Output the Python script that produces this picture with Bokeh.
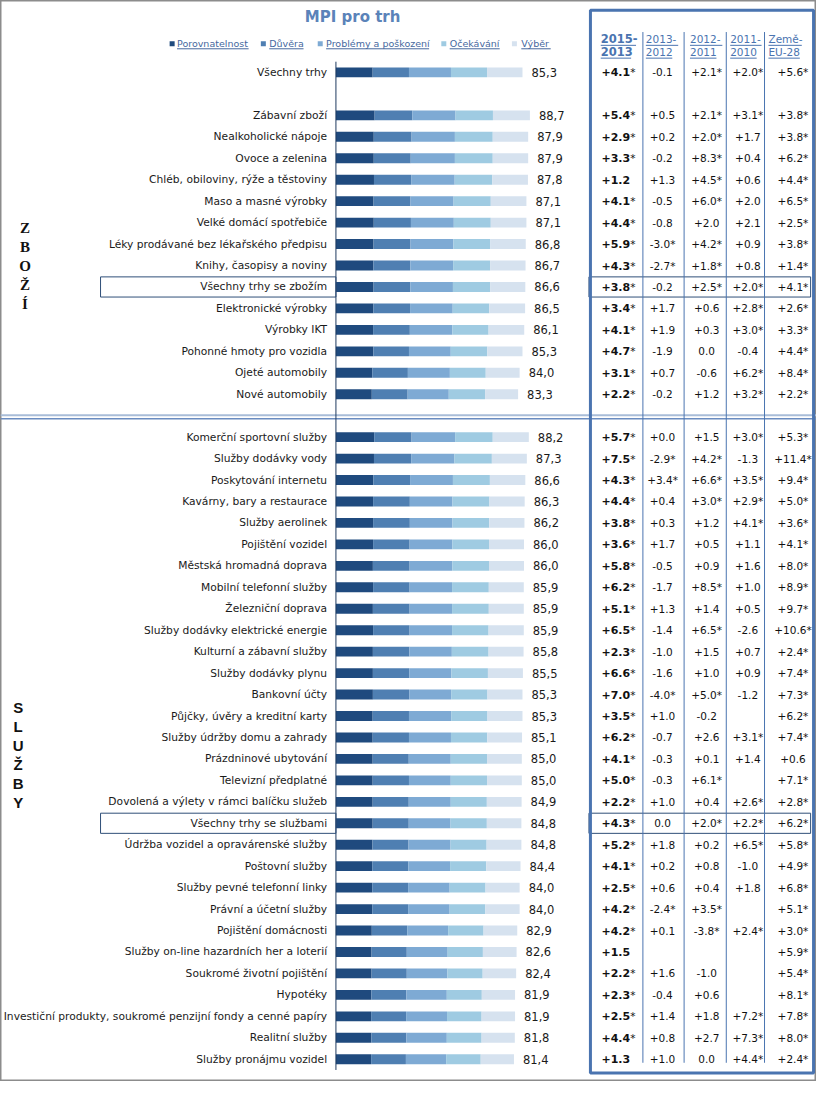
from bokeh.plotting import figure
from bokeh.models import Range1d, ColumnDataSource
from bokeh.embed import file_html
from bokeh.resources import INLINE
from bokeh.core.properties import value

# ---------------- data ----------------
title_text = "MPI pro trh"
components = ["Porovnatelnost", "Důvěra", "Problémy a poškození", "Očekávání", "Výběr"]
col_headers = [("2015-", "2013"), ("2013-", "2012"), ("2012-", "2011"), ("2011-", "2010"), ("Země-", "EU-28")]
group_names = ["ZBOŽÍ", "SLUŽBY"]
summary_rows = ["Všechny trhy se zbožím", "Všechny trhy se službami"]

labels = [
    "Všechny trhy",
    "Zábavní zboží", "Nealkoholické nápoje", "Ovoce a zelenina", "Chléb, obiloviny, rýže a těstoviny",
    "Maso a masné výrobky", "Velké domácí spotřebiče", "Léky prodávané bez lékařského předpisu",
    "Knihy, časopisy a noviny", "Všechny trhy se zbožím", "Elektronické výrobky", "Výrobky IKT",
    "Pohonné hmoty pro vozidla", "Ojeté automobily", "Nové automobily",
    "Komerční sportovní služby", "Služby dodávky vody", "Poskytování internetu", "Kavárny, bary a restaurace",
    "Služby aerolinek", "Pojištění vozidel", "Městská hromadná doprava", "Mobilní telefonní služby",
    "Železniční doprava", "Služby dodávky elektrické energie", "Kulturní a zábavní služby",
    "Služby dodávky plynu", "Bankovní účty", "Půjčky, úvěry a kreditní karty", "Služby údržby domu a zahrady",
    "Prázdninové ubytování", "Televizní předplatné", "Dovolená a výlety v rámci balíčku služeb",
    "Všechny trhy se službami", "Údržba vozidel a opravárenské služby", "Poštovní služby",
    "Služby pevné telefonní linky", "Právní a účetní služby", "Pojištění domácnosti",
    "Služby on-line hazardních her a loterií", "Soukromé životní pojištění", "Hypotéky",
    "Investiční produkty, soukromé penzijní fondy a cenné papíry", "Realitní služby", "Služby pronájmu vozidel",
]
sections = ["all"] + ["goods"] * 14 + ["services"] * 30

mpi = [85.3, 88.7, 87.9, 87.9, 87.8, 87.1, 87.1, 86.8, 86.7, 86.6, 86.5, 86.1, 85.3, 84.0, 83.3,
       88.2, 87.3, 86.6, 86.3, 86.2, 86.0, 86.0, 85.9, 85.9, 85.9, 85.8, 85.5, 85.3, 85.3, 85.1,
       85.0, 85.0, 84.9, 84.8, 84.8, 84.4, 84.0, 84.0, 82.9, 82.6, 82.4, 81.9, 81.9, 81.8, 81.4]

porovnatelnost = [16.8, 17.7, 17.3, 17.3, 17.4, 17.2, 17.3, 17.2, 17.1, 17.2, 17.1, 17.0, 17.1, 16.6, 16.4,
                  17.5, 17.4, 17.1, 17.0, 17.0, 17.0, 16.9, 17.0, 16.9, 17.0, 16.9, 16.9, 16.9, 16.8, 16.8,
                  16.8, 16.8, 16.8, 16.8, 16.7, 16.6, 16.6, 16.6, 16.4, 16.3, 16.3, 16.2, 16.1, 16.2, 16.1]
duvera = [16.6, 17.2, 17.3, 16.9, 17.0, 16.9, 17.0, 16.9, 16.9, 16.8, 16.8, 16.8, 16.3, 16.3, 16.4,
          17.1, 17.0, 16.8, 16.8, 16.8, 16.7, 16.8, 16.7, 16.8, 16.7, 16.7, 16.6, 16.6, 16.6, 16.6,
          16.5, 16.6, 16.5, 16.5, 16.5, 16.5, 16.4, 16.4, 16.2, 16.1, 16.1, 16.0, 16.0, 16.0, 15.9]
problemy = [19.2, 19.8, 19.8, 20.2, 19.9, 19.7, 19.6, 19.6, 19.6, 19.5, 19.5, 19.4, 19.1, 19.2, 18.8,
            19.9, 19.8, 19.6, 19.5, 19.5, 19.5, 19.5, 19.4, 19.4, 19.4, 19.4, 19.3, 19.2, 19.3, 19.2,
            19.2, 19.1, 19.2, 19.1, 19.2, 19.1, 19.0, 19.0, 18.7, 18.7, 18.6, 18.5, 18.7, 18.5, 18.4]
ocekavani = [16.5, 17.1, 17.3, 17.3, 17.2, 17.0, 16.9, 16.9, 16.9, 17.0, 16.7, 16.6, 16.7, 16.4, 16.6,
             17.2, 17.1, 16.9, 16.9, 16.8, 16.8, 16.8, 16.8, 16.8, 16.7, 16.8, 16.7, 16.6, 16.6, 16.6,
             16.6, 16.6, 16.5, 16.6, 16.5, 16.5, 16.4, 16.3, 16.2, 16.1, 16.1, 16.0, 15.8, 15.9, 15.8]
vyber = [16.2, 16.9, 16.2, 16.2, 16.3, 16.3, 16.3, 16.2, 16.2, 16.1, 16.4, 16.3, 16.1, 15.5, 15.1,
         16.5, 16.0, 16.2, 16.1, 16.1, 16.0, 16.0, 16.0, 16.0, 16.1, 16.0, 16.0, 16.0, 16.0, 15.9,
         15.9, 15.9, 15.9, 15.8, 15.9, 15.7, 15.6, 15.7, 15.4, 15.4, 15.3, 15.2, 15.3, 15.2, 15.2]

chg_2015_2013 = ["+4.1*", "+5.4*", "+2.9*", "+3.3*", "+1.2", "+4.1*", "+4.4*", "+5.9*", "+4.3*", "+3.8*",
                 "+3.4*", "+4.1*", "+4.7*", "+3.1*", "+2.2*", "+5.7*", "+7.5*", "+4.3*", "+4.4*", "+3.8*",
                 "+3.6*", "+5.8*", "+6.2*", "+5.1*", "+6.5*", "+2.3*", "+6.6*", "+7.0*", "+3.5*", "+6.2*",
                 "+4.1*", "+5.0*", "+2.2*", "+4.3*", "+5.2*", "+4.1*", "+2.5*", "+4.2*", "+4.2*", "+1.5",
                 "+2.2*", "+2.3*", "+2.5*", "+4.4*", "+1.3"]
chg_2013_2012 = ["-0.1", "+0.5", "+0.2", "-0.2", "+1.3", "-0.5", "-0.8", "-3.0*", "-2.7*", "-0.2",
                 "+1.7", "+1.9", "-1.9", "+0.7", "-0.2", "+0.0", "-2.9*", "+3.4*", "+0.4", "+0.3",
                 "+1.7", "-0.5", "-1.7", "+1.3", "-1.4", "-1.0", "-1.6", "-4.0*", "+1.0", "-0.7",
                 "-0.3", "-0.3", "+1.0", "0.0", "+1.8", "+0.2", "+0.6", "-2.4*", "+0.1", "",
                 "+1.6", "-0.4", "+1.4", "+0.8", "+1.0"]
chg_2012_2011 = ["+2.1*", "+2.1*", "+2.0*", "+8.3*", "+4.5*", "+6.0*", "+2.0", "+4.2*", "+1.8*", "+2.5*",
                 "+0.6", "+0.3", "0.0", "-0.6", "+1.2", "+1.5", "+4.2*", "+6.6*", "+3.0*", "+1.2",
                 "+0.5", "+0.9", "+8.5*", "+1.4", "+6.5*", "+1.5", "+1.0", "+5.0*", "-0.2", "+2.6",
                 "+0.1", "+6.1*", "+0.4", "+2.0*", "+0.2", "+0.8", "+0.4", "+3.5*", "-3.8*", "",
                 "-1.0", "+0.6", "+1.8", "+2.7", "0.0"]
chg_2011_2010 = ["+2.0*", "+3.1*", "+1.7", "+0.4", "+0.6", "+2.0", "+2.1", "+0.9", "+0.8", "+2.0*",
                 "+2.8*", "+3.0*", "-0.4", "+6.2*", "+3.2*", "+3.0*", "-1.3", "+3.5*", "+2.9*", "+4.1*",
                 "+1.1", "+1.6", "+1.0", "+0.5", "-2.6", "+0.7", "+0.9", "-1.2", "", "+3.1*",
                 "+1.4", "", "+2.6*", "+2.2*", "+6.5*", "-1.0", "+1.8", "", "+2.4*", "",
                 "", "", "+7.2*", "+7.3*", "+4.4*"]
chg_eu28 = ["+5.6*", "+3.8*", "+3.8*", "+6.2*", "+4.4*", "+6.5*", "+2.5*", "+3.8*", "+1.4*", "+4.1*",
            "+2.6*", "+3.3*", "+4.4*", "+8.4*", "+2.2*", "+5.3*", "+11.4*", "+9.4*", "+5.0*", "+3.6*",
            "+4.1*", "+8.0*", "+8.9*", "+9.7*", "+10.6*", "+2.4*", "+7.4*", "+7.3*", "+6.2*", "+7.4*",
            "+0.6", "+7.1*", "+2.8*", "+6.2*", "+5.8*", "+4.9*", "+6.8*", "+5.1*", "+3.0*", "+5.9*",
            "+5.4*", "+8.1*", "+7.8*", "+8.0*", "+2.4*"]

# ---------------- styling / layout ----------------
seg_colors = ["#1f4a7e", "#4f7fb2", "#7eaad4", "#9fcbe2", "#d6e2ef"]
blue = "#4a74b0"
FONT = value("DejaVu Sans")

REF_W, REF_H = 832, 1097
ROW0_Y, ROW_STEP = 73.0, 21.77       # reference pixel position of the first row and row pitch
BAR_X0, PX_PER_UNIT = 342.0, 2.23    # reference pixel of value 0 and scale

# slot positions (one empty slot between sections)
slots = []
s, prev = 0, None
for sec in sections:
    if prev is not None:
        s += 1 if sec == prev else 2
    slots.append(s)
    prev = sec

p = figure(width=816, height=1081, x_range=Range1d(0, REF_W), y_range=Range1d(REF_H, 0),
           output_backend="svg", toolbar_location=None, min_border=0,
           x_axis_location=None, y_axis_location=None)
p.grid.visible = False
p.outline_line_color = "#8c8c8c"
p.outline_line_width = 2
p.background_fill_color = "white"
p.border_fill_color = "white"
p.extra_x_ranges = {"val": Range1d(-BAR_X0 / PX_PER_UNIT, (REF_W - BAR_X0) / PX_PER_UNIT)}
p.extra_y_ranges = {"row": Range1d((REF_H - ROW0_Y) / ROW_STEP, -ROW0_Y / ROW_STEP)}

# split first column into bold number + regular asterisk
c0_num = [t.rstrip("*") for t in chg_2015_2013]
c0_star = ["*" if t.endswith("*") else "" for t in chg_2015_2013]

src = ColumnDataSource(dict(
    slot=slots, label=labels, mpi=mpi,
    mpi_txt=[f"{v:.1f}".replace(".", ",") for v in mpi],
    c0=porovnatelnost, c1=duvera, c2=problemy, c3=ocekavani, c4=vyber,
    t0=chg_2015_2013, t1=chg_2013_2012, t2=chg_2012_2011, t3=chg_2011_2010, t4=chg_eu28,
    n0=c0_num, s0=c0_star,
))

# separator between goods and services
p.segment(x0=[0], y0=[421], x1=[REF_W], y1=[421], line_color="#a9bdd8", line_width=2)
p.segment(x0=[0], y0=[424.5], x1=[REF_W], y1=[424.5], line_color="#6a8cc0", line_width=1.5)

# stacked bars
p.hbar_stack(["c0", "c1", "c2", "c3", "c4"], y="slot", height=0.46, color=seg_colors,
             line_color=None, source=src, x_range_name="val", y_range_name="row")

# axis line
p.segment(x0=[0], y0=[-0.5], x1=[0], y1=[slots[-1] + 0.5], line_color="#1f3a5f", line_width=1,
          x_range_name="val", y_range_name="row")

# value labels
p.text(x="mpi", y="slot", text="mpi_txt", source=src, x_range_name="val", y_range_name="row",
       x_offset=9, text_align="left", text_baseline="middle", text_font=FONT,
       text_font_size="11.5px", text_color="#1a1a1a")

# row labels
p.text(x=333, y="slot", text="label", source=src, y_range_name="row",
       text_align="right", text_baseline="middle", text_font=FONT,
       text_font_size="10.7px", text_color="#1a1a1a")

# summary row boxes
sum_slots = [slots[labels.index(r)] for r in summary_rows]
p.quad(left=102, right=BAR_X0, top=[v - 0.47 for v in sum_slots], bottom=[v + 0.47 for v in sum_slots],
       fill_color=None, line_color="#2f4f78", line_width=1, y_range_name="row")
p.quad(left=600, right=826, top=[v - 0.47 for v in sum_slots], bottom=[v + 0.47 for v in sum_slots],
       fill_color=None, line_color="#2f4f78", line_width=1, y_range_name="row")

# table frame and column lines
p.quad(left=[601.5], right=[829], top=[10], bottom=[1088.5], fill_color=None,
       line_color=blue, line_width=3)
col_lines = [655, 697, 740, 779]
p.segment(x0=col_lines, y0=32, x1=col_lines, y1=1078, line_color=blue, line_width=1)

# table cells: first column bold number with a regular asterisk
p.text(x=642, y="slot", text="n0", source=src, y_range_name="row",
       text_align="right", text_baseline="middle", text_font=FONT,
       text_font_size="11px", text_font_style="bold", text_color="#111111")
p.text(x=642, y="slot", text="s0", source=src, y_range_name="row",
       text_align="left", text_baseline="middle", text_font=FONT,
       text_font_size="10.5px", text_color="#111111")
col_centers = [631, 675, 720, 762, 808]
for j in range(1, 5):
    p.text(x=col_centers[j], y="slot", text=f"t{j}", source=src, y_range_name="row",
           text_align="center", text_baseline="middle", text_font=FONT,
           text_font_size="10.5px", text_color="#111111")

# table headers (underlined)
hdr_x = [612, 658, 703, 744, 783]
hdr_w1 = [36, 33, 33, 32, 34]
hdr_w2 = [31, 27, 27, 27, 32]
for j, (a, b) in enumerate(col_headers):
    p.text(x=[hdr_x[j], hdr_x[j]], y=[39, 52], text=[a, b], text_align="left", text_baseline="middle",
           text_font=FONT, text_font_size="11.5px" if j == 0 else "10.5px",
           text_font_style="bold" if j == 0 else "normal", text_color=blue)
    p.segment(x0=[hdr_x[j], hdr_x[j]], y0=[45.5, 58.5], x1=[hdr_x[j] + hdr_w1[j], hdr_x[j] + hdr_w2[j]],
              y1=[45.5, 58.5], line_color=blue, line_width=1)

# title
p.text(x=[359], y=[17], text=[title_text], text_align="center", text_baseline="middle",
       text_font=FONT, text_font_size="15px", text_font_style="bold", text_color="#5b83b9")

# legend
leg_sq = [175, 268, 326, 452, 524]
leg_tx = [180, 274, 332, 458, 531]
leg_w = [73, 35, 105, 51, 30]
p.rect(x=leg_sq, y=44, width=5, height=5, width_units="screen", height_units="screen",
       fill_color=seg_colors, line_color=None)
p.text(x=leg_tx, y=44, text=components, text_align="left", text_baseline="middle",
       text_font=FONT, text_font_size="9.5px", text_color="#46689e")
p.segment(x0=leg_tx, y0=49, x1=[a + w for a, w in zip(leg_tx, leg_w)], y1=49,
          line_color="#46689e", line_width=1)

# vertical section letters
for name, cx, cy, fnt in [(group_names[0], 25, 269.5, "Liberation Serif"),
                          (group_names[1], 18, 765.5, "Liberation Sans")]:
    n = len(name)
    ys = [cy + (i - (n - 1) / 2) * 19.3 for i in range(n)]
    p.text(x=[cx] * n, y=ys, text=list(name), text_align="center", text_baseline="middle",
           text_font=value(fnt), text_font_size="15px", text_font_style="bold", text_color="#111111")

open("out.html", "w").write(file_html(p, INLINE))
